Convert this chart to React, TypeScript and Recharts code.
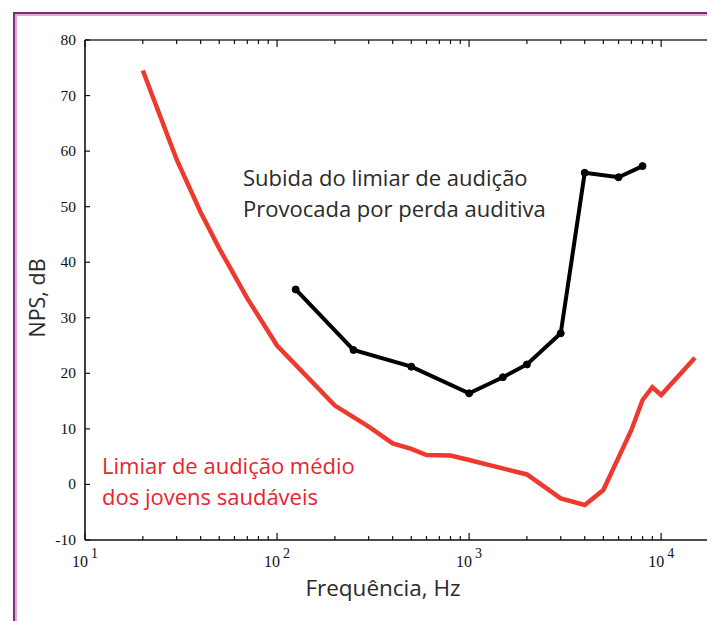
import React from 'react';
import { LineChart, Line, XAxis, YAxis } from 'recharts';

// Limiar de audição médio dos jovens saudáveis (red)
const redFreq = [20, 30, 40, 50, 70, 100, 200, 300, 400, 500, 600, 800, 1000, 2000, 3000, 4000, 5000, 7000, 8000, 9000, 10000, 15000];
const redDb = [74.5, 58.5, 49, 42.5, 33.5, 25, 14.2, 10.4, 7.4, 6.4, 5.3, 5.2, 4.4, 1.8, -2.5, -3.7, -1.0, 9.8, 15.2, 17.5, 16.1, 22.8];

// Subida do limiar de audição provocada por perda auditiva (black)
const blackFreq = [125, 250, 500, 1000, 1500, 2000, 3000, 4000, 6000, 8000];
const blackDb = [35.1, 24.2, 21.2, 16.4, 19.3, 21.6, 27.2, 56.1, 55.3, 57.3];

const yTicks = [-10, 0, 10, 20, 30, 40, 50, 60, 70, 80];
const xMajor = [10, 100, 1000, 10000];
const xMajorExp = ['1', '2', '3', '4'];
const xMinor = [20, 30, 40, 50, 60, 70, 80, 90, 200, 300, 400, 500, 600, 700, 800, 900, 2000, 3000, 4000, 5000, 6000, 7000, 8000, 9000];
const xAll = [...xMajor, ...xMinor].sort((a, b) => a - b);

const redData = redFreq.map((f, i) => ({ f, db: redDb[i] }));
const blackData = blackFreq.map((f, i) => ({ f, db: blackDb[i] }));

const SERIF = '"Liberation Serif", "Times New Roman", serif';
const SANS = '"Open Sans", "Noto Sans", sans-serif';

const BottomTick = (props: any) => {
  const { x, y, payload } = props;
  const idx = xMajor.indexOf(payload.value);
  const major = idx >= 0;
  return (
    <g>
      <line x1={x} y1={y} x2={x} y2={y - (major ? 7 : 4)} stroke="#111" strokeWidth={1.2} />
      {major && (
        <text x={x} y={y + 27} textAnchor="middle" fontFamily={SERIF} fontSize={16} fill="#111">
          10<tspan dx={3} dy={-9} fontSize={14}>{xMajorExp[idx]}</tspan>
        </text>
      )}
    </g>
  );
};

const TopTick = (props: any) => {
  const { x, y, payload } = props;
  const major = xMajor.indexOf(payload.value) >= 0;
  return <line x1={x} y1={y} x2={x} y2={y + (major ? 7 : 4)} stroke="#111" strokeWidth={1.2} />;
};

const LeftTick = (props: any) => {
  const { x, y, payload } = props;
  return (
    <g>
      <line x1={x} y1={y} x2={x + 5} y2={y} stroke="#111" strokeWidth={1.2} />
      <text x={x - 9} y={y + 5} textAnchor="end" fontFamily={SERIF} fontSize={15.5} fill="#111">
        {payload.value}
      </text>
    </g>
  );
};

const RightTick = (props: any) => {
  const { x, y } = props;
  return <line x1={x} y1={y} x2={x - 5} y2={y} stroke="#111" strokeWidth={1.2} />;
};

export default function App() {
  return (
    <div style={{ position: 'relative', width: 707, height: 613, overflow: 'hidden', background: '#fff' }}>
      <div
        style={{
          position: 'absolute',
          left: 5,
          top: 4,
          width: 2000,
          height: 2000,
          borderLeft: '2px solid #7b2c7d',
          borderTop: '2px solid #7b2c7d',
          boxShadow: 'inset 2px 2px 0 #dca9d9',
        }}
      />
      <div style={{ position: 'absolute', left: 0, top: 0 }}>
        <LineChart width={713} height={613} margin={{ top: 28, right: 0, bottom: 41, left: 0 }}>
          <XAxis
            xAxisId="b"
            dataKey="f"
            type="number"
            scale="log"
            domain={[10, 19300]}
            allowDataOverflow
            ticks={xAll}
            interval={0}
            tick={<BottomTick />}
            tickSize={0}
            tickMargin={0}
            tickLine={false}
            height={40}
            axisLine={{ stroke: '#111', strokeWidth: 1.6 }}
          />
          <XAxis
            xAxisId="t"
            orientation="top"
            dataKey="f"
            type="number"
            scale="log"
            domain={[10, 19300]}
            allowDataOverflow
            ticks={xAll}
            interval={0}
            tick={<TopTick />}
            tickSize={0}
            tickMargin={0}
            tickLine={false}
            height={4}
            axisLine={{ stroke: '#333', strokeWidth: 1.4 }}
          />
          <YAxis
            yAxisId="l"
            type="number"
            domain={[-10, 80]}
            ticks={yTicks}
            interval={0}
            tick={<LeftTick />}
            tickSize={0}
            tickMargin={0}
            tickLine={false}
            width={77}
            axisLine={{ stroke: '#111', strokeWidth: 1.6 }}
          />
          <YAxis
            yAxisId="r"
            orientation="right"
            type="number"
            domain={[-10, 80]}
            ticks={yTicks}
            interval={0}
            tick={<RightTick />}
            tickSize={0}
            tickMargin={0}
            tickLine={false}
            width={5}
            axisLine={{ stroke: '#111', strokeWidth: 1.6 }}
          />
          <Line
            xAxisId="b"
            yAxisId="l"
            data={redData}
            dataKey="db"
            type="linear"
            stroke="#ee3a2e"
            strokeWidth={4.5}
            dot={false}
            isAnimationActive={false}
          />
          <Line
            xAxisId="b"
            yAxisId="l"
            data={blackData}
            dataKey="db"
            type="linear"
            stroke="#000"
            strokeWidth={4}
            dot={{ r: 3.5, fill: '#000', stroke: '#000', strokeWidth: 1 }}
            isAnimationActive={false}
          />
        </LineChart>
      </div>
      <div
        style={{
          position: 'absolute',
          left: 235,
          top: 154,
          fontFamily: SANS,
          fontSize: 22,
          lineHeight: '31px',
          color: '#2a2a2a',
          whiteSpace: 'nowrap',
        }}
      >
        Subida do limiar de audição
        <br />
        Provocada por perda auditiva
      </div>
      <div
        style={{
          position: 'absolute',
          left: 94,
          top: 442,
          fontFamily: SANS,
          fontSize: 22,
          lineHeight: '31px',
          color: '#e8242e',
          whiteSpace: 'nowrap',
        }}
      >
        Limiar de audição médio
        <br />
        dos jovens saudáveis
      </div>
      <div
        style={{
          position: 'absolute',
          left: 175,
          width: 400,
          top: 565,
          textAlign: 'center',
          fontFamily: SANS,
          fontSize: 22.5,
          lineHeight: '30px',
          color: '#2a2a2a',
        }}
      >
        Frequência, Hz
      </div>
      <div
        style={{
          position: 'absolute',
          left: 29 - 100,
          width: 200,
          top: 290 - 15,
          height: 30,
          lineHeight: '30px',
          textAlign: 'center',
          transform: 'rotate(-90deg)',
          fontFamily: SANS,
          fontSize: 21.5,
          color: '#2a2a2a',
        }}
      >
        NPS, dB
      </div>
    </div>
  );
}
